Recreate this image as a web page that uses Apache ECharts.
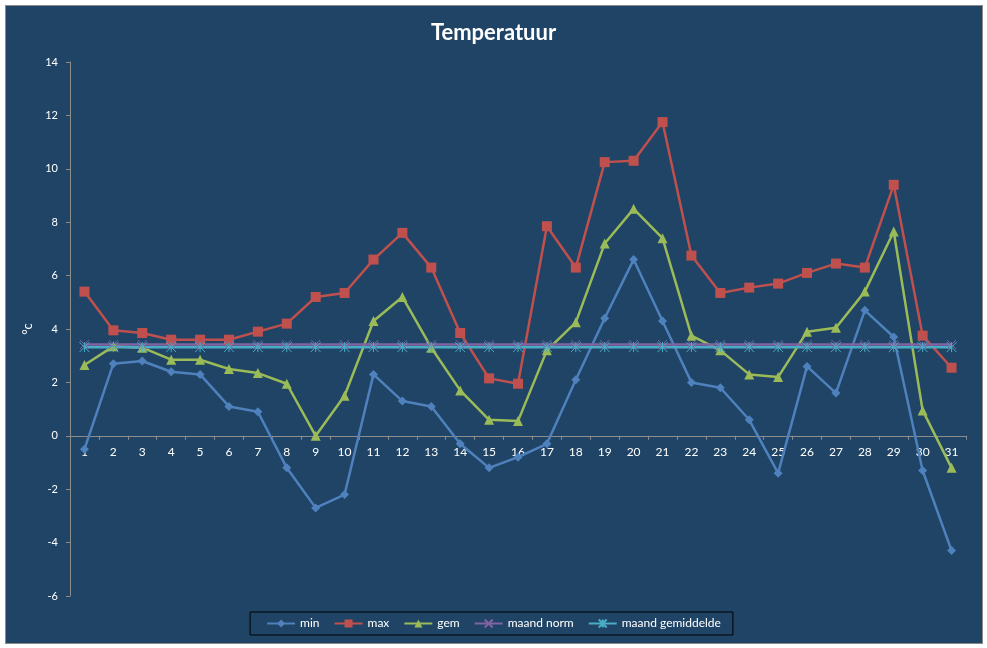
<!DOCTYPE html>
<html>
<head>
<meta charset="utf-8">
<script src="https://cdn.jsdelivr.net/npm/echarts@6/dist/echarts.min.js"></script>
<style>
html,body{margin:0;padding:0;background:#ffffff;}
#frame{position:absolute;left:5px;top:5px;width:976px;height:637px;background:#1f4466;border:1px solid #8a8a8a;}
#chart{position:absolute;left:0;top:0;width:987px;height:648px;}
</style>
</head>
<body>
<div id="frame"></div>
<div id="chart"></div>
<script>
var days = ['1','2','3','4','5','6','7','8','9','10','11','12','13','14','15','16','17','18','19','20','21','22','23','24','25','26','27','28','29','30','31'];
var minTemp = [-0.5,2.7,2.8,2.4,2.3,1.1,0.9,-1.2,-2.7,-2.2,2.3,1.3,1.1,-0.3,-1.2,-0.8,-0.3,2.1,4.4,6.6,4.3,2.0,1.8,0.6,-1.4,2.6,1.6,4.7,3.7,-1.3,-4.3];
var maxTemp = [5.4,3.95,3.85,3.6,3.6,3.6,3.9,4.2,5.2,5.35,6.6,7.6,6.3,3.85,2.15,1.95,7.85,6.3,10.25,10.3,11.75,6.75,5.35,5.55,5.7,6.1,6.45,6.3,9.4,3.75,2.55];
var gemTemp = [2.65,3.35,3.3,2.85,2.85,2.5,2.35,1.95,0.0,1.5,4.3,5.2,3.3,1.7,0.6,0.55,3.2,4.25,7.2,8.5,7.4,3.75,3.2,2.3,2.2,3.9,4.05,5.4,7.65,0.95,-1.2];
var maandNorm = [3.42,3.42,3.42,3.42,3.42,3.42,3.42,3.42,3.42,3.42,3.42,3.42,3.42,3.42,3.42,3.42,3.42,3.42,3.42,3.42,3.42,3.42,3.42,3.42,3.42,3.42,3.42,3.42,3.42,3.42,3.42];
var maandGem = [3.32,3.32,3.32,3.32,3.32,3.32,3.32,3.32,3.32,3.32,3.32,3.32,3.32,3.32,3.32,3.32,3.32,3.32,3.32,3.32,3.32,3.32,3.32,3.32,3.32,3.32,3.32,3.32,3.32,3.32,3.32];
var yTicks = {min:-6, max:14, interval:2};

var fontFam = 'Lato, "Open Sans", sans-serif';
var chart = echarts.init(document.getElementById('chart'), null, {renderer:'canvas'});
var xSym = 'path://M0,0 L10,10 M10,0 L0,10';
var starSym = 'path://M0,0 L10,10 M10,0 L0,10 M5,0 L5,10';
function lineSeries(name, data, color, symbol, size, extra){
  var s = {
    name:name, type:'line', data:data, symbol:symbol, symbolSize:size,
    showAllSymbol:true,
    lineStyle:{color:color, width:2.5},
    itemStyle:{color:color, borderColor:color, borderWidth:0},
    emphasis:{disabled:true},
    animation:false
  };
  if (extra) { for (var k in extra) s[k] = extra[k]; }
  return s;
}
var gridTop = 62, gridBottom = 52, chartH = 648;
var plotH = chartH - gridTop - gridBottom;
var zeroOffset = -plotH * (0 - yTicks.min) / (yTicks.max - yTicks.min);
var option = {
  backgroundColor:'transparent',
  title:{text:'Temperatuur', left:'center', top:17,
    textStyle:{color:'#ffffff', fontSize:22, fontWeight:'bold', fontFamily:fontFam}},
  legend:{
    bottom:13, left:'center',
    borderColor:'#000000', borderWidth:1, padding:[5,12,5,16],
    itemWidth:28, itemHeight:10, itemGap:14,
    textStyle:{color:'#ffffff', fontSize:12, fontFamily:fontFam},
    data:['min','max','gem','maand norm','maand gemiddelde']
  },
  grid:{left:70, right:21, top:gridTop, bottom:gridBottom, containLabel:false},
  xAxis:{
    type:'category', data:days, boundaryGap:true, offset:zeroOffset,
    axisLine:{onZero:false, lineStyle:{color:'#8c8c8c', width:1}},
    axisTick:{show:true, alignWithLabel:false, length:4, lineStyle:{color:'#8c8c8c'}},
    axisLabel:{color:'#ffffff', fontSize:12, fontFamily:fontFam, margin:10, interval:0},
    splitLine:{show:false}
  },
  yAxis:{
    type:'value', min:yTicks.min, max:yTicks.max, interval:yTicks.interval,
    name:'°c', nameLocation:'middle', nameGap:34, nameRotate:90,
    nameTextStyle:{color:'#ffffff', fontSize:13, fontFamily:fontFam},
    axisLine:{show:true, lineStyle:{color:'#8c8c8c', width:1}},
    axisTick:{show:true, length:4, lineStyle:{color:'#8c8c8c'}},
    axisLabel:{color:'#ffffff', fontSize:11, fontFamily:fontFam, margin:12},
    splitLine:{show:false}
  },
  series:[
    lineSeries('min', minTemp, '#4f81bd', 'diamond', 9),
    lineSeries('max', maxTemp, '#c0504d', 'rect', 10),
    lineSeries('gem', gemTemp, '#9bbb59', 'triangle', 10),
    lineSeries('maand norm', maandNorm, '#8064a2', xSym, 9, {itemStyle:{color:'none', borderColor:'#8064a2', borderWidth:1}}),
    lineSeries('maand gemiddelde', maandGem, '#4bacc6', starSym, 10, {itemStyle:{color:'none', borderColor:'#4bacc6', borderWidth:1}})
  ]
};
chart.setOption(option);
</script>
</body>
</html>
